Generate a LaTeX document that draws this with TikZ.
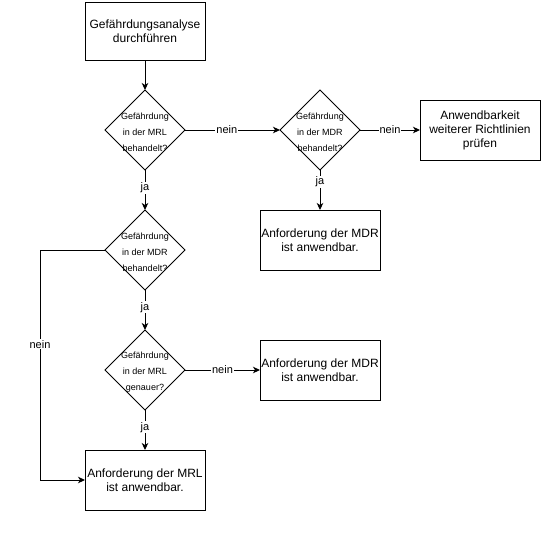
\documentclass[tikz,border=0pt]{standalone}
\usepackage{fontspec}
\setmainfont{Liberation Sans}
\usetikzlibrary{shapes.geometric,arrows.meta}
\begin{document}
\begin{tikzpicture}[x=1pt,y=-1pt,
  box/.style={draw,line width=1pt,minimum width=120pt,minimum height=60pt,inner sep=0pt,outer sep=0pt,align=center,font=\fontsize{12}{14}\selectfont},
  dia/.style={draw,shape=diamond,line width=1pt,minimum width=80pt,minimum height=80pt,inner sep=0pt,outer sep=0pt},
  dtext/.style={align=center,font=\fontsize{9}{16}\selectfont,inner sep=0pt},
  arr/.style={line width=1pt,-{Stealth[length=7pt,width=6.5pt,inset=2pt]}},
  lbl/.style={fill=white,inner sep=1pt,font=\fontsize{11}{13}\selectfont}]
\useasboundingbox (0,0) rectangle (541,542);
\node[box,minimum height=58pt] (b1) at (145,31) {Gefährdungsanalyse\\durchführen};
\node[dia] (d1) at (145,130) {};
\node[dtext] (t1) at (145,132) {Gefährdung\\in der MRL\\behandelt?};
\node[dia] (d2) at (320,130) {};
\node[dtext] (t2) at (320,132) {Gefährdung\\in der MDR\\behandelt?};
\node[box] (b2) at (480,130) {Anwendbarkeit\\weiterer Richtlinien\\prüfen};
\node[box] (b3) at (320,240) {Anforderung der MDR\\ist anwendbar.};
\node[dia] (d3) at (145,250) {};
\node[dtext] (t3) at (145,252) {Gefährdung\\in der MDR\\behandelt?};
\node[dia] (d4) at (145,370) {};
\node[dtext] (t4) at (145,372) {Gefährdung\\in der MRL\\genauer?};
\node[box] (b4) at (320,370) {Anforderung der MDR\\ist anwendbar.};
\node[box] (b5) at (145,480) {Anforderung der MRL\\ist anwendbar.};
\coordinate (c1) at (40,250);

\draw[arr] (b1) -- (d1);
\draw[arr] (d1) -- node[lbl,pos=0.44]{nein} (d2);
\draw[arr] (d2) -- node[lbl]{nein} (b2);
\draw[arr] (d2) -- node[lbl,pos=0.3]{ja} (b3);
\draw[arr] (d1) -- node[lbl,pos=0.45]{ja} (d3);
\draw[arr] (d3) -- node[lbl,pos=0.43]{ja} (d4);
\draw[arr] (d4) -- node[lbl,pos=0.43]{ja} (b5);
\draw[arr] (d4) -- node[lbl]{nein} (b4);
\draw[arr] (d3.west) -- (c1) |- node[lbl,pos=0.205]{nein} (b5.west);
\end{tikzpicture}
\end{document}
